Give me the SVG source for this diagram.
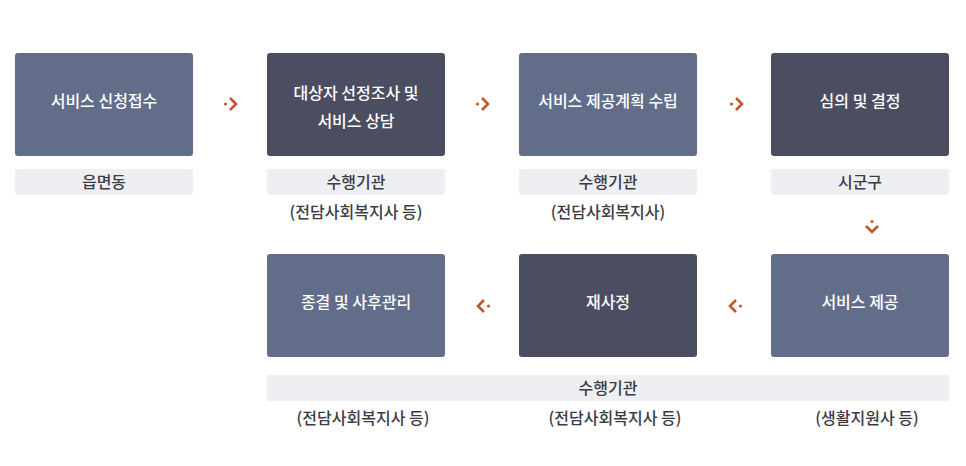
<svg xmlns="http://www.w3.org/2000/svg" width="966" height="466" viewBox="0 0 966 466">
<defs>
<style>
.box{rx:3;ry:3}
.lt{fill:#616d89}
.dk{fill:#4b4d61}
.bar{fill:#eeeff3}
.bt{font-family:"Noto Sans CJK KR","Noto Sans",sans-serif;font-size:16px;font-weight:500;fill:#ffffff;text-anchor:middle}
.lb{font-family:"Noto Sans CJK KR","Noto Sans",sans-serif;font-size:16px;font-weight:500;fill:#3c3c44;text-anchor:middle}
.arr{fill:none;stroke:#c4552c;stroke-width:2.6;stroke-linecap:butt;stroke-linejoin:miter}
.dot{fill:#c4552c}
</style>
</defs>
<rect width="966" height="466" fill="#ffffff"/>
<g id="node1">
<rect class="box lt" x="15" y="53" width="178" height="103"/>
<text class="bt" x="104" y="107">서비스 신청접수</text>
<rect class="bar" x="15" y="169" width="178" height="26" rx="2"/>
<text class="lb" x="104" y="188">읍면동</text>
</g>
<g id="node2">
<rect class="box dk" x="267" y="53" width="178" height="103"/>
<text class="bt" x="356" y="99">대상자 선정조사 및</text>
<text class="bt" x="356" y="127">서비스 상담</text>
<rect class="bar" x="267" y="169" width="178" height="26" rx="2"/>
<text class="lb" x="356" y="188">수행기관</text>
<text class="lb" x="356" y="218">(전담사회복지사 등)</text>
</g>
<g id="node3">
<rect class="box lt" x="519" y="53" width="178" height="103"/>
<text class="bt" x="608" y="107">서비스 제공계획 수립</text>
<rect class="bar" x="519" y="169" width="178" height="26" rx="2"/>
<text class="lb" x="608" y="188">수행기관</text>
<text class="lb" x="608" y="218">(전담사회복지사)</text>
</g>
<g id="node4">
<rect class="box dk" x="771" y="53" width="178" height="103"/>
<text class="bt" x="860" y="107">심의 및 결정</text>
<rect class="bar" x="771" y="169" width="178" height="26" rx="2"/>
<text class="lb" x="860" y="188">시군구</text>
</g>
<g id="node5">
<rect class="box lt" x="771" y="254" width="178" height="103"/>
<text class="bt" x="860" y="308">서비스 제공</text>
</g>
<g id="node6">
<rect class="box dk" x="519" y="254" width="178" height="103"/>
<text class="bt" x="608" y="308">재사정</text>
</g>
<g id="node7">
<rect class="box lt" x="267" y="254" width="178" height="103"/>
<text class="bt" x="356" y="308">종결 및 사후관리</text>
</g>
<g id="bottom-labels">
<rect class="bar" x="267" y="375" width="682" height="26" rx="2"/>
<text class="lb" x="608" y="394">수행기관</text>
<text class="lb" x="363" y="424">(전담사회복지사 등)</text>
<text class="lb" x="615" y="424">(전담사회복지사 등)</text>
<text class="lb" x="867" y="424">(생활지원사 등)</text>
</g>
<g id="connectors">
<circle class="dot" cx="225.5" cy="104" r="1.6"/>
<polyline class="arr" points="230,98 236,104 230,110"/>
<circle class="dot" cx="477.5" cy="104" r="1.6"/>
<polyline class="arr" points="482,98 488,104 482,110"/>
<circle class="dot" cx="731.5" cy="104" r="1.6"/>
<polyline class="arr" points="736,98 742,104 736,110"/>
<circle class="dot" cx="872" cy="221.5" r="1.6"/>
<polyline class="arr" points="866,226 872,232 878,226"/>
<circle class="dot" cx="488.5" cy="306" r="1.6"/>
<polyline class="arr" points="484,300 478,306 484,312"/>
<circle class="dot" cx="740.5" cy="306" r="1.6"/>
<polyline class="arr" points="736,300 730,306 736,312"/>
</g>
</svg>
